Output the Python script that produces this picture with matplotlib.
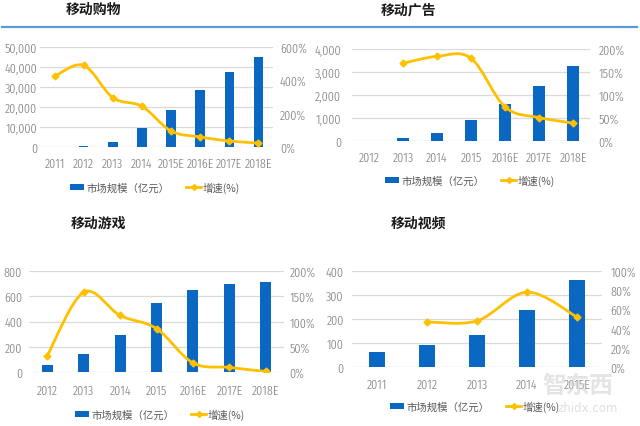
import matplotlib
matplotlib.use("Agg")
import matplotlib.pyplot as plt
import numpy as np
from matplotlib.path import Path
from matplotlib.patches import PathPatch, Patch
from matplotlib.lines import Line2D
from matplotlib.ticker import FuncFormatter
from matplotlib import font_manager as fm

# ---------------- data ----------------
shop_years = ['2011', '2012', '2013', '2014', '2015E', '2016E', '2017E', '2018E']
shop_size = [120, 700, 2700, 9300, 18300, 28300, 37300, 45000]
shop_growth = [424, 490, 296, 244, 96, 60, 36, 24]

ad_years = ['2012', '2013', '2014', '2015', '2016E', '2017E', '2018E']
ad_size = [0, 130, 330, 920, 1590, 2370, 3280]
ad_growth = [None, 169, 184, 180, 74, 51, 39]

game_years = ['2012', '2013', '2014', '2015', '2016E', '2017E', '2018E']
game_size = [58, 140, 296, 546, 647, 697, 710]
game_growth = [32, 158, 112, 86, 18, 9, 1]

video_years = ['2011', '2012', '2013', '2014', '2015E']
video_size = [63, 92, 134, 238, 362]
video_growth = [None, 47, 48, 78, 52]

titles = ['移动购物', '移动广告', '移动游戏', '移动视频']
legend_labels = ['市场规模（亿元）', '增速(%)']

# ---------------- style ----------------
BAR = '#0A67C2'
LINE = '#FFC000'
GRID = '#D9D9D9'
TXT = '#7A7A7A'
CJK = ['Noto Sans CJK SC', 'DejaVu Sans']

installed = {f.name for f in fm.fontManager.ttflist}
narrow_candidates = ['Fira Sans Extra Condensed', 'Sofia Sans Extra Condensed',
                     'Archivo Narrow', 'Roboto Condensed', 'PT Sans Narrow']
NARROW = next((n for n in narrow_candidates if n in installed), 'DejaVu Sans')
plt.rcParams['font.family'] = [NARROW, 'Noto Sans CJK SC', 'DejaVu Sans']
TICKW = 300
TICKSIZE = 9.5

W, H = 640, 427
fig = plt.figure(figsize=(6.4, 4.27), dpi=100)
fig.patch.set_facecolor('white')


def fx(px):
    return px / W


def fy(py):
    return 1 - py / H


def smooth_patch(xs, ys, **kw):
    pts = np.column_stack([xs, ys]).astype(float)
    n = len(pts)
    verts = [pts[0]]
    codes = [Path.MOVETO]
    for i in range(n - 1):
        p0 = pts[i - 1] if i > 0 else pts[i]
        p1 = pts[i]
        p2 = pts[i + 1]
        p3 = pts[i + 2] if i + 2 < n else pts[i + 1]
        c1 = p1 + (p2 - p0) / 6.0
        c2 = p2 - (p3 - p1) / 6.0
        verts += [c1, c2, p2]
        codes += [Path.CURVE4] * 3
    return PathPatch(Path(verts, codes), fill=False, **kw)


def style_labels(labels):
    for lab in labels:
        lab.set_fontweight(TICKW)


def panel(rect_px, years, size, growth, lmax, lstep, rmax, rstep, bw,
          title, title_xy, legend_xy, lpad, rpad, xpad, comma=False):
    x0, x1, ytop, ybot = rect_px
    ax = fig.add_axes([fx(x0), fy(ybot), fx(x1 - x0), (ybot - ytop) / H])
    x = np.arange(len(years))
    ax.bar(x, size, width=bw, color=BAR, zorder=2)
    ax.set_xlim(-0.5, len(years) - 0.5)
    ax.set_ylim(0, lmax)
    ax.set_yticks(np.arange(0, lmax + 1, lstep))
    if comma:
        ax.yaxis.set_major_formatter(FuncFormatter(lambda v, p: f'{int(v):,}'))
    ax.set_xticks(x)
    ax.set_xticklabels(years)
    ax.yaxis.grid(True, color=GRID, lw=0.9)
    ax.set_axisbelow(True)
    for s in ax.spines.values():
        s.set_visible(False)
    ax.tick_params(axis='y', length=0, pad=lpad, labelcolor=TXT, labelsize=TICKSIZE)
    ax.tick_params(axis='x', length=0, pad=xpad, labelcolor=TXT, labelsize=TICKSIZE)
    style_labels(ax.get_xticklabels() + ax.get_yticklabels())

    ax2 = ax.twinx()
    ax2.set_ylim(0, rmax)
    ax2.set_yticks(np.arange(0, rmax + 1, rstep))
    ax2.yaxis.set_major_formatter(FuncFormatter(lambda v, p: f'{int(v)}%'))
    for s in ax2.spines.values():
        s.set_visible(False)
    ax2.tick_params(axis='y', length=0, pad=rpad, labelcolor=TXT, labelsize=TICKSIZE)
    style_labels(ax2.get_yticklabels())
    gx = [xi for xi, g in zip(x, growth) if g is not None]
    gy = [g for g in growth if g is not None]
    ax2.add_patch(smooth_patch(gx, gy, edgecolor=LINE, lw=2.0, zorder=3))
    ax2.plot(gx, gy, ls='none', marker='D', ms=3.5, color=LINE, zorder=4)

    fig.text(fx(title_xy[0]), fy(title_xy[1]), title, ha='center', va='center',
             fontsize=10, fontweight='bold', family=CJK, color='#1A1A1A')

    handles = [Patch(facecolor=BAR, edgecolor='none'),
               Line2D([0], [0], color=LINE, lw=2, marker='D', ms=3)]
    fig.legend(handles, legend_labels, loc='center',
               bbox_to_anchor=(fx(legend_xy[0]), fy(legend_xy[1])),
               ncol=2, frameon=False, prop={'family': CJK, 'size': 7.5},
               labelcolor='#595959', handlelength=1.4, handleheight=0.6,
               handletextpad=0.2, columnspacing=1.6, borderpad=0.1)
    return ax


panel((40, 273, 48, 148), shop_years, shop_size, shop_growth, 50000, 10000, 600, 200,
      0.33, titles[0], (93, 10), (155, 188), 2, 5, 7, comma=True)
panel((352, 590, 50, 142), ad_years, ad_size, ad_growth, 4000, 1000, 200, 50,
      0.33, titles[1], (408, 10), (470, 181), 8, 6, 7, comma=True)
panel((29, 284, 272, 373), game_years, game_size, game_growth, 800, 200, 200, 50,
      0.3, titles[2], (98, 224), (160, 415), 5, 4, 8.5)
panel((352, 602, 272, 368), video_years, video_size, video_growth, 400, 100, 100, 20,
      0.32, titles[3], (418, 224), (475, 407), 6, 6, 8)

# separator line under top titles
fig.add_artist(Line2D([fx(2), fx(637)], [fy(27.5), fy(27.5)], color='#5B9BD5', lw=1.6,
                      transform=fig.transFigure))

# watermark
fig.text(fx(578), fy(386), '智东西', ha='center', va='center', fontsize=17,
         family=CJK, color='#CFCFCF', alpha=0.55, fontweight='bold')
fig.text(fx(588), fy(409), 'zhidx.com', ha='center', va='center', fontsize=8.5,
         family=['DejaVu Sans'], color='#CFCFCF', alpha=0.65)

fig.savefig('out.png', dpi=100, facecolor='white')
